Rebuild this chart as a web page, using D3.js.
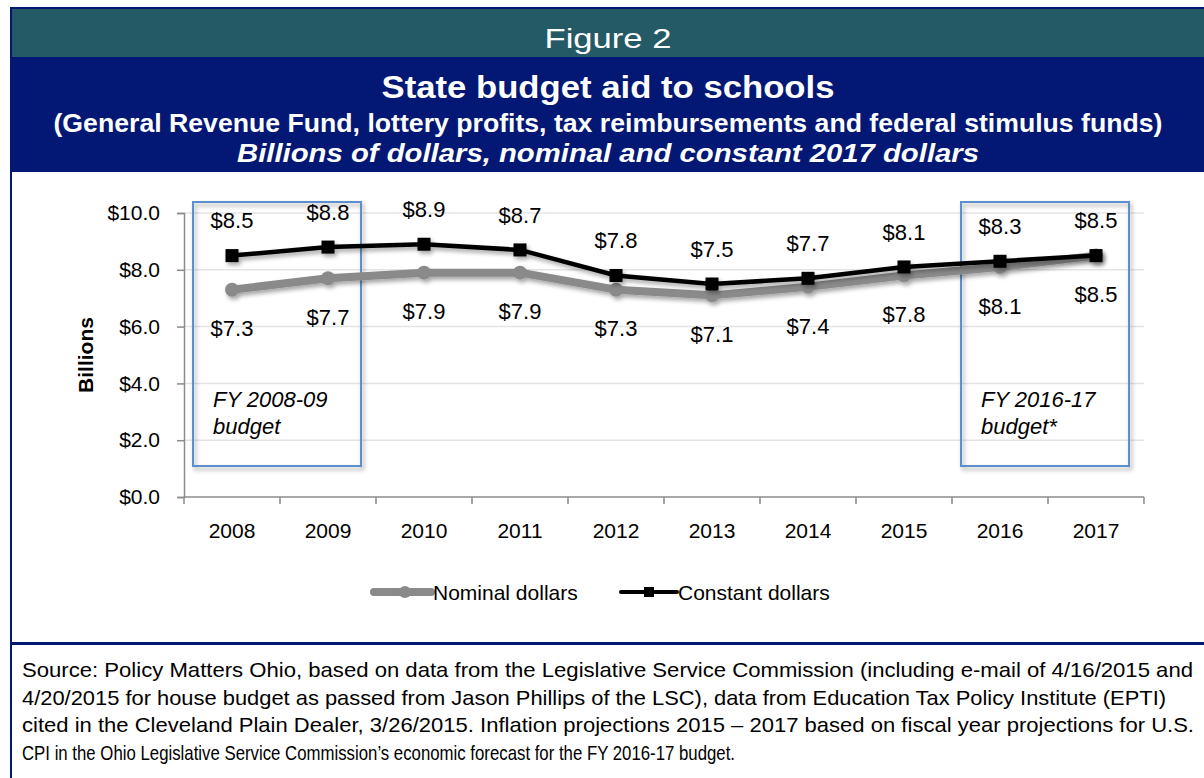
<!DOCTYPE html>
<html>
<head>
<meta charset="utf-8">
<script src="https://cdn.jsdelivr.net/npm/d3@7"></script>
<style>
  html, body { margin: 0; padding: 0; background: #fff; }
  svg { display: block; font-family: Arial, "Liberation Sans", sans-serif; }
</style>
</head>
<body>
<svg id="chart" width="1204" height="778"></svg>
<script>
// data
var years = ["2008", "2009", "2010", "2011", "2012", "2013", "2014", "2015", "2016", "2017"];
var nominal = [7.3, 7.7, 7.9, 7.9, 7.3, 7.1, 7.4, 7.8, 8.1, 8.5];
var constant = [8.5, 8.8, 8.9, 8.7, 7.8, 7.5, 7.7, 8.1, 8.3, 8.5];
var yTicks = [0, 2, 4, 6, 8, 10];
var budgetBoxes = [
  { from: "2008", to: "2009", lines: ["FY 2008-09", "budget"] },
  { from: "2016", to: "2017", lines: ["FY 2016-17", "budget*"] }
];
var sourceLines = [
  "Source: Policy Matters Ohio, based on data from the Legislative Service Commission (including e-mail of 4/16/2015 and",
  "4/20/2015 for house budget as passed from Jason Phillips of the LSC), data from Education Tax Policy Institute (EPTI)",
  "cited in the Cleveland Plain Dealer, 3/26/2015. Inflation projections 2015 \u2013 2017 based on fiscal year projections for U.S.",
  "CPI in the Ohio Legislative Service Commission\u2019s economic forecast for the FY 2016-17 budget."
];
var sourceWidths = [1171, 1144, 1172, 713];

var NAVY = "#021874", TEAL = "#245a65", GRAY = "#8a8a8a", BOXBLUE = "#5b8fcb";

var svg = d3.select("#chart");

// shadow used by lines and boxes
var defs = svg.append("defs");
defs.append("filter").attr("id", "shadow")
  .attr("x", "-20%").attr("y", "-50%").attr("width", "140%").attr("height", "200%")
  .append("feDropShadow")
  .attr("dx", 2).attr("dy", 3).attr("stdDeviation", 2)
  .attr("flood-color", "#000").attr("flood-opacity", 0.35);

// frame and header bands
svg.append("rect").attr("x", 10).attr("y", 7).attr("width", 1194).attr("height", 2).attr("fill", NAVY);
svg.append("rect").attr("x", 10).attr("y", 7).attr("width", 2).attr("height", 771).attr("fill", NAVY);
svg.append("rect").attr("x", 12).attr("y", 9).attr("width", 1192).attr("height", 48).attr("fill", TEAL);
svg.append("rect").attr("x", 10).attr("y", 57).attr("width", 1194).attr("height", 115).attr("fill", NAVY);
svg.append("rect").attr("x", 10).attr("y", 642).attr("width", 1194).attr("height", 3).attr("fill", NAVY);

var cx = 608;
function headerText(txt, y, size, width, weight, style) {
  svg.append("text")
    .attr("x", cx).attr("y", y)
    .attr("text-anchor", "middle")
    .attr("fill", "#fff")
    .attr("font-size", size)
    .attr("font-weight", weight)
    .attr("font-style", style)
    .attr("textLength", width)
    .attr("lengthAdjust", "spacingAndGlyphs")
    .text(txt);
}
headerText("Figure 2", 48, 28, 127, "normal", "normal");
headerText("State budget aid to schools", 98, 32, 453, "bold", "normal");
headerText("(General Revenue Fund, lottery profits, tax reimbursements and federal stimulus funds)", 132, 25, 1109, "bold", "normal");
headerText("Billions of dollars, nominal and constant 2017 dollars", 162, 25, 742, "bold", "italic");

// scales
var x = d3.scaleBand().domain(years).range([184, 1144]).padding(0);
var y = d3.scaleLinear().domain([0, 10]).range([497, 213]);
var xc = function(d) { return x(d) + x.bandwidth() / 2; };

// gridlines
svg.append("g").selectAll("line")
  .data(yTicks.filter(function(d) { return d > 0; }))
  .join("line")
  .attr("x1", 184).attr("x2", 1144)
  .attr("y1", function(d) { return y(d); }).attr("y2", function(d) { return y(d); })
  .attr("stroke", "#e4e4e4").attr("stroke-width", 1.5);

// y axis
var yAxis = svg.append("g").attr("transform", "translate(184,0)")
  .call(d3.axisLeft(y).tickValues(yTicks).tickSize(7).tickPadding(17)
    .tickFormat(function(d) { return "$" + d.toFixed(1); }));
yAxis.select(".domain").attr("stroke", "#8c8c8c").attr("stroke-width", 1.5);
yAxis.selectAll(".tick line").attr("stroke", "#8c8c8c").attr("stroke-width", 1.5);
yAxis.selectAll(".tick text").attr("font-size", 21).attr("fill", "#000")
  .attr("font-family", "Arial, 'Liberation Sans', sans-serif");

// x axis: ticks on category boundaries, labels at centers
var xg = svg.append("g");
xg.append("line").attr("x1", 184).attr("x2", 1144).attr("y1", 497).attr("y2", 497)
  .attr("stroke", "#8c8c8c").attr("stroke-width", 1.5);
var bounds = years.map(function(d) { return x(d); }).concat([x(years[years.length - 1]) + x.bandwidth()]);
xg.selectAll("line.tk").data(bounds).join("line").attr("class", "tk")
  .attr("x1", function(d) { return d; }).attr("x2", function(d) { return d; })
  .attr("y1", 497).attr("y2", 504)
  .attr("stroke", "#8c8c8c").attr("stroke-width", 1.5);
xg.selectAll("text").data(years).join("text")
  .attr("x", xc).attr("y", 538)
  .attr("text-anchor", "middle").attr("font-size", 21)
  .text(function(d) { return d; });

// axis title
svg.append("text")
  .attr("transform", "translate(93,355) rotate(-90)")
  .attr("text-anchor", "middle").attr("font-size", 21).attr("font-weight", "bold")
  .text("Billions");

// budget boxes
budgetBoxes.forEach(function(b) {
  var x0 = x(b.from) + 9, x1 = x(b.to) + x.bandwidth() - 15;
  svg.append("rect")
    .attr("x", x0).attr("y", 202).attr("width", x1 - x0).attr("height", 264)
    .attr("fill", "none").attr("stroke", BOXBLUE).attr("stroke-width", 2)
    .attr("filter", "url(#shadow)");
  svg.append("text")
    .attr("x", x0 + 20).attr("y", 407)
    .attr("font-size", 22).attr("font-style", "italic")
    .selectAll("tspan").data(b.lines).join("tspan")
    .attr("x", x0 + 20).attr("dy", function(d, i) { return i ? 27 : 0; })
    .text(function(d) { return d; });
});

// lines
var line = d3.line()
  .x(function(d, i) { return xc(years[i]); })
  .y(function(d) { return y(d); });

var gNom = svg.append("g").attr("filter", "url(#shadow)");
gNom.append("path").datum(nominal).attr("d", line)
  .attr("fill", "none").attr("stroke", GRAY).attr("stroke-width", 8)
  .attr("stroke-linejoin", "round");
gNom.selectAll("circle").data(nominal).join("circle")
  .attr("cx", function(d, i) { return xc(years[i]); })
  .attr("cy", function(d) { return y(d); })
  .attr("r", 7).attr("fill", GRAY);

var gCon = svg.append("g").attr("filter", "url(#shadow)");
gCon.append("path").datum(constant).attr("d", line)
  .attr("fill", "none").attr("stroke", "#000").attr("stroke-width", 4.5)
  .attr("stroke-linejoin", "miter");
gCon.selectAll("rect").data(constant).join("rect")
  .attr("x", function(d, i) { return xc(years[i]) - 6.5; })
  .attr("y", function(d) { return y(d) - 6.5; })
  .attr("width", 13).attr("height", 13).attr("fill", "#000");

// value labels
var fmt = function(d) { return "$" + d.toFixed(1); };
svg.append("g").selectAll("text").data(constant).join("text")
  .attr("x", function(d, i) { return xc(years[i]); })
  .attr("y", function(d) { return y(d) - 35; })
  .attr("dy", "0.35em").attr("text-anchor", "middle").attr("font-size", 22)
  .text(fmt);
svg.append("g").selectAll("text").data(nominal).join("text")
  .attr("x", function(d, i) { return xc(years[i]); })
  .attr("y", function(d) { return y(d) + 39; })
  .attr("dy", "0.35em").attr("text-anchor", "middle").attr("font-size", 22)
  .text(fmt);

// legend
var leg = svg.append("g");
leg.append("line").attr("x1", 374).attr("x2", 431).attr("y1", 592).attr("y2", 592)
  .attr("stroke", GRAY).attr("stroke-width", 8).attr("stroke-linecap", "round");
leg.append("circle").attr("cx", 405).attr("cy", 592).attr("r", 6).attr("fill", GRAY);
leg.append("text").attr("x", 433).attr("y", 600).attr("font-size", 21).text("Nominal dollars");
leg.append("line").attr("x1", 621).attr("x2", 677).attr("y1", 592).attr("y2", 592)
  .attr("stroke", "#000").attr("stroke-width", 4).attr("stroke-linecap", "round");
leg.append("rect").attr("x", 644).attr("y", 587).attr("width", 10).attr("height", 10).attr("fill", "#000");
leg.append("text").attr("x", 678).attr("y", 600).attr("font-size", 21).text("Constant dollars");

// source note, each line fitted to the extent it has in the figure
svg.append("g").selectAll("text").data(sourceLines).join("text")
  .attr("x", 22)
  .attr("y", function(d, i) { return 677 + i * 27.5; })
  .attr("font-size", 21)
  .attr("textLength", function(d, i) { return sourceWidths[i]; })
  .attr("lengthAdjust", "spacingAndGlyphs")
  .text(function(d) { return d; });
</script>
</body>
</html>
